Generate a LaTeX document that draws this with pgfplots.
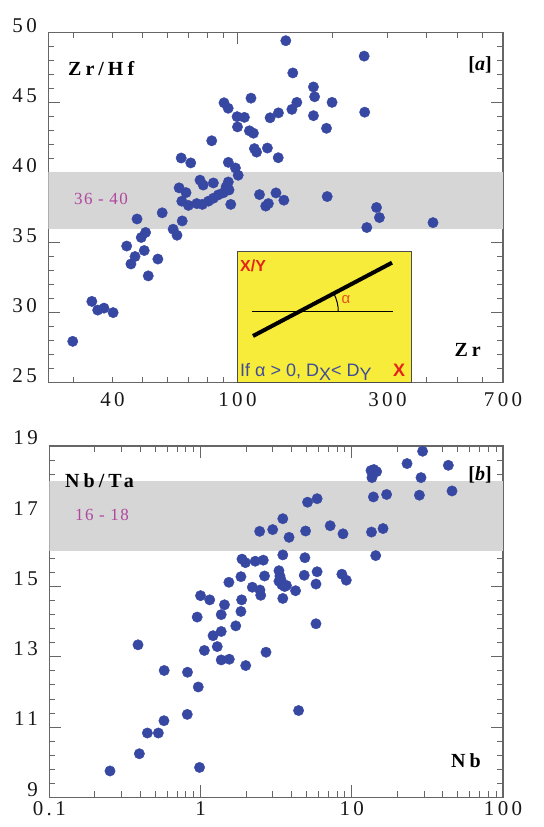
\documentclass[border=0pt]{standalone}
\usepackage{fontspec}
\setmainfont{Liberation Serif}
\newfontfamily\tickfont{Liberation Serif}[LetterSpace=16]
\newfontfamily\labfont{Liberation Serif}[LetterSpace=20]
\newfontfamily\numfont{Liberation Serif}[LetterSpace=8]
\newfontfamily\insetfont{Liberation Sans}
\usepackage{pgfplots}
\pgfplotsset{compat=1.18}
\definecolor{dotblue}{RGB}{55,72,163}
\definecolor{bandgray}{RGB}{214,214,214}
\definecolor{rangepink}{RGB}{176,71,158}
\definecolor{insetyellow}{RGB}{247,236,58}
\definecolor{insetred}{RGB}{229,35,27}
\definecolor{insetorange}{RGB}{232,83,31}
\definecolor{insetblue}{RGB}{63,76,154}
\pgfplotsset{panel/.style={
  scale only axis, anchor=south west,
  axis line style={draw=black!60, line width=1.2bp},
  every tick/.style={draw=black!60, line width=0.8bp},
  tick align=inside,
  major tick length=12bp, minor tick length=6bp,
  ticklabel style={font=\tickfont\fontsize{21bp}{23bp}\selectfont, text=black!90},
}}
\begin{document}
\begin{tikzpicture}[x=1bp,y=1bp]
\useasboundingbox (0,0) rectangle (544,827);
% ---------- panel a ----------
\begin{axis}[panel, at={(48.3bp,444.3bp)}, width=454.7bp, height=350.4bp,
  xmode=log, xmin=25, xmax=700, ymin=25, ymax=50,
  xtick={100}, xticklabels={},
  minor xtick={30,40,50,60,70,80,90,200,300,400,500,600},
  extra x ticks={40,100,300,700}, extra x tick labels={40,100,300,700},
  extra x tick style={major tick length=0pt},
  ytick={25,30,35,40,45,50}, yticklabels={25,30,35,40,45,50},
  minor y tick num=4,
  yticklabel style={yshift=7bp, xshift=-8bp},
  xticklabel style={yshift=-6bp}]
\fill[bandgray] (axis cs:25,36) rectangle (axis cs:700,40);
\addplot[only marks, mark=*, mark size=5.2bp, mark options={draw=dotblue, fill=dotblue}] coordinates {
(142.5,49.4) (253,48.3) (150,47.1) (174.5,46.1) (176,45.4) (200,45.0) (154.5,45.0)
(149,44.5) (135,44.25) (127,43.9) (174.5,44.05) (254,44.3) (192,43.15) (110.4,45.3)
(90.6,44.97) (93.4,44.58) (99.7,43.98) (105.2,43.93) (100,43.25) (109.1,42.97)
(112.4,42.8) (82.8,42.26) (113.2,41.7) (115,41.45) (124.5,41.74) (134.8,41.05)
(66.2,41.03) (71,40.68) (93.5,40.72) (98.5,40.32) (100.5,39.8) (76,39.45) (77.8,39.1)
(83.8,39.25) (93.5,39.32) (92,38.97) (94,38.75) (65.2,38.9) (68.6,38.56) (117.5,38.42)
(132.6,38.54) (193,38.28) (66.5,37.95) (69.8,37.65) (74.2,37.78) (77.3,37.72)
(80.8,37.95) (83.8,38.16) (86.9,38.4) (90.2,38.55) (95.2,37.72) (125.4,37.78) (123,37.6)
(140.5,38.02) (57.6,37.12) (47.9,36.68) (66.7,36.54) (62.4,35.95) (64.2,35.52)
(277,37.5) (283,36.78) (258,36.07) (419,36.42) (51,35.72) (49.4,35.36) (44.4,34.75)
(50.5,34.43) (47.2,34.0) (45.8,33.47) (55.8,33.82) (52,32.62) (34.4,30.8) (35.9,30.18)
(37.6,30.32) (40.2,30.0) (29.9,27.95)
};
\end{axis}
% ---------- panel b ----------
\begin{axis}[panel, at={(49.3bp,29.7bp)}, width=453.7bp, height=351.3bp,
  xmode=log, xmin=0.1, xmax=100, ymin=9, ymax=19,
  xtick={0.1,1,10,100}, xticklabels={0.1,1,10,100},
  ytick={9,11,13,15,17,19}, yticklabels={9,11,13,15,17,19},
  minor y tick num=4,
  yticklabel style={yshift=8bp, xshift=-8bp},
  xticklabel style={yshift=-1bp}]
\fill[bandgray] (axis cs:0.1,16) rectangle (axis cs:100,18);
\addplot[only marks, mark=*, mark size=5.2bp, mark options={draw=dotblue, fill=dotblue}] coordinates {
(29.4,18.85) (23.2,18.5) (43.5,18.45) (13.4,18.3) (14.0,18.33) (14.6,18.27) (13.6,18.1)
(28.7,18.1) (46,17.72) (17.0,17.62) (28,17.6) (13.9,17.55) (5.9,17.5) (5.1,17.4)
(3.5,16.93) (7.2,16.73) (3.0,16.62) (4.95,16.58) (2.46,16.57) (8.75,16.5) (13.5,16.55)
(16.1,16.65) (3.85,16.4) (14.4,15.88) (3.5,15.9) (4.9,15.82) (1.88,15.78) (1.98,15.68)
(2.3,15.72) (2.6,15.75) (3.3,15.45) (3.35,15.3) (3.3,15.15) (3.45,15.05) (3.6,15.0)
(3.4,15.2) (2.65,15.3) (4.85,15.32) (5.9,15.42) (8.6,15.35) (9.2,15.18) (5.8,15.07)
(3.7,15.03) (4.25,14.88) (3.5,14.66) (2.47,14.9) (2.5,14.75) (2.2,14.98) (1.85,15.28)
(1.54,15.12) (1.0,14.74) (1.15,14.62) (1.44,14.48) (1.87,14.62) (1.85,14.29) (1.37,14.2)
(0.95,14.13) (1.71,13.88) (5.8,13.94) (1.37,13.72) (1.21,13.6) (1.29,13.29) (0.386,13.34)
(1.06,13.18) (1.37,12.91) (1.55,12.93) (2.71,13.13) (1.99,12.75) (0.575,12.61) (0.82,12.56)
(0.966,12.14) (4.45,11.47) (0.817,11.36) (0.573,11.18) (0.445,10.83) (0.526,10.83)
(0.394,10.24) (0.252,9.75) (0.985,9.85)
};
\end{axis}
% ---------- labels ----------
\node[anchor=base west, inner sep=0, font=\labfont\bfseries\fontsize{20bp}{22bp}\selectfont] at (68,751) {Zr/Hf};
\node[anchor=base east, inner sep=0, font=\bfseries\fontsize{20bp}{22bp}\selectfont] at (492,756.3) {[\textit{a}]};
\node[anchor=base east, inner sep=0, font=\labfont\bfseries\fontsize{20bp}{22bp}\selectfont] at (481,470.3) {Zr};
\node[anchor=base west, inner sep=0, text=rangepink, font=\numfont\fontsize{17bp}{19bp}\selectfont] at (74,622) {36 - 40};
\node[anchor=base west, inner sep=0, font=\labfont\bfseries\fontsize{20bp}{22bp}\selectfont] at (65,339) {Nb/Ta};
\node[anchor=base east, inner sep=0, font=\bfseries\fontsize{20bp}{22bp}\selectfont] at (492,346) {[\textit{b}]};
\node[anchor=base east, inner sep=0, font=\labfont\bfseries\fontsize{20bp}{22bp}\selectfont] at (481,59) {Nb};
\node[anchor=base west, inner sep=0, text=rangepink, font=\numfont\fontsize{17bp}{19bp}\selectfont] at (75,306.3) {16 - 18};
% ---------- inset ----------
\filldraw[fill=insetyellow, draw=black!70, line width=0.8bp] (237.3,444.3) rectangle (411,576);
\node[anchor=base west, inner sep=0, text=insetred, font=\insetfont\bfseries\fontsize{16bp}{18bp}\selectfont] at (240,555.3) {X/Y};
\draw[line width=1.3bp] (251.7,515.3) -- (393.3,515.3);
\draw[line width=4bp] (253,491) -- (392,564.3);
\draw[line width=1bp] (338.3,515.3) arc[start angle=0, end angle=27.8, radius=39.2];
\node[text=insetorange, inner sep=0, font=\insetfont\fontsize{15bp}{17bp}\selectfont] at (346,527) {α};
\node[anchor=base west, inner sep=0, text=insetblue, font=\insetfont\fontsize{18bp}{20bp}\selectfont] at (240,450.3) {If α > 0, D\raisebox{-0.2em}{X}< D\raisebox{-0.2em}{Y}};
\node[anchor=base west, inner sep=0, text=insetred, font=\insetfont\bfseries\fontsize{18bp}{20bp}\selectfont] at (393,450.3) {X};
\end{tikzpicture}
\end{document}
